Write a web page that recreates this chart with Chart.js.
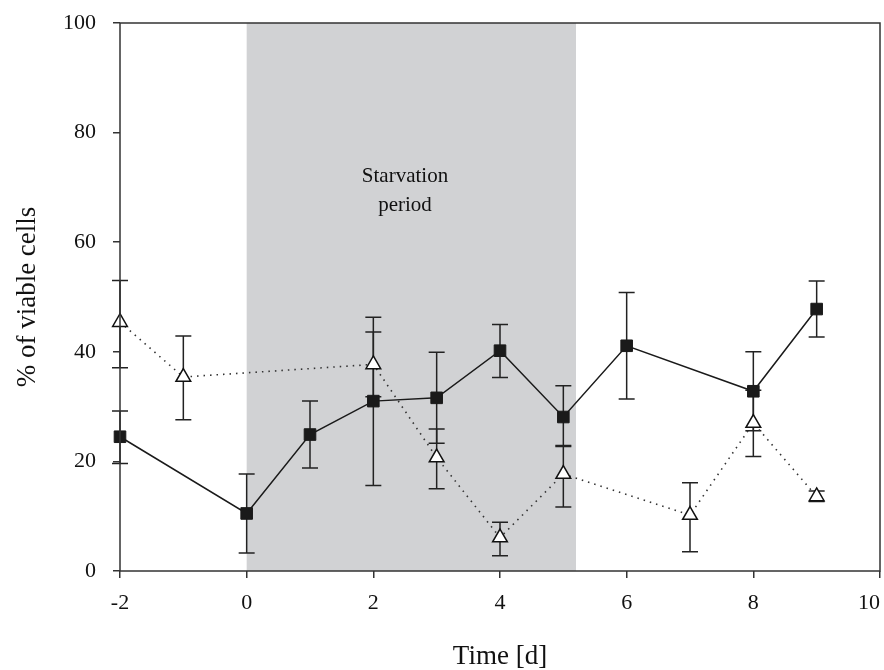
<!DOCTYPE html>
<html>
<head>
<meta charset="utf-8">
<script src="https://cdn.jsdelivr.net/npm/chart.js@4/dist/chart.umd.min.js"></script>
<style>
  html, body { margin: 0; padding: 0; background: #fff; }
  #wrap { width: 884px; height: 670px; }
</style>
</head>
<body>
<div id="wrap"><canvas id="myChart" width="884" height="670"></canvas></div>
<script>
// viable cells (filled squares, solid line)
const viableDays = [-2, 0, 1, 2, 3, 4, 5, 6, 8, 9];
const viableMean = [24.5, 10.5, 24.9, 31.0, 31.6, 40.2, 28.1, 41.1, 32.8, 47.8];
const viableHigh = [29.2, 17.7, 31.0, 46.3, 39.9, 45.0, 33.8, 50.8, 40.0, 52.9];
const viableLow  = [19.6, 3.3, 18.8, 15.6, 23.3, 35.3, 22.9, 31.4, 25.6, 42.7];

// second series (open triangles, dotted line)
const otherDays = [-2, -1, 2, 3, 4, 5, 7, 8, 9];
const otherMean = [45.4, 35.4, 37.7, 20.7, 6.1, 17.7, 10.2, 27.0, 13.6];
const otherHigh = [53.0, 42.9, 43.6, 25.9, 8.9, 22.7, 16.1, 33.0, 14.6];
const otherLow  = [37.1, 27.6, 31.8, 15.0, 2.8, 11.7, 3.5, 20.9, 12.7];

// starvation period on the time axis
const starvation = [0, 5.2];
const xTicks = [-2, 0, 2, 4, 6, 8, 10];
const yTicks = [0, 20, 40, 60, 80, 100];

const serif = "'Liberation Serif', 'Times New Roman', serif";
const ink = '#111';

function points(xs, ys) {
    return xs.map((x, i) => ({ x: x, y: ys[i] }));
}

// grey band + error bars, drawn under the markers
const backdrop = {
    id: 'backdrop',
    beforeDatasetsDraw(chart) {
        const ctx = chart.ctx;
        const xs = chart.scales.x, ys = chart.scales.y;
        const area = chart.chartArea;
        ctx.save();
        ctx.fillStyle = '#d1d2d4';
        const x0 = xs.getPixelForValue(starvation[0]);
        const x1 = xs.getPixelForValue(starvation[1]);
        ctx.fillRect(x0, area.top, x1 - x0, area.bottom - area.top);

        ctx.fillStyle = ink;
        ctx.font = '21px ' + serif;
        ctx.textAlign = 'center';
        ctx.textBaseline = 'alphabetic';
        const tx = xs.getPixelForValue(2.5);
        ctx.fillText('Starvation', tx, 182);
        ctx.fillText('period', tx, 211);

        ctx.strokeStyle = '#222';
        ctx.lineWidth = 1.5;
        const bars = [
            [viableDays, viableHigh, viableLow],
            [otherDays, otherHigh, otherLow]
        ];
        bars.forEach(([days, hi, lo]) => {
            days.forEach((d, i) => {
                const px = xs.getPixelForValue(d);
                const pt = ys.getPixelForValue(hi[i]);
                const pb = ys.getPixelForValue(lo[i]);
                ctx.beginPath();
                ctx.moveTo(px, pt); ctx.lineTo(px, pb);
                ctx.moveTo(px - 8, pt); ctx.lineTo(px + 8, pt);
                ctx.moveTo(px - 8, pb); ctx.lineTo(px + 8, pb);
                ctx.stroke();
            });
        });
        ctx.restore();
    },
    afterDraw(chart) {
        const ctx = chart.ctx;
        const a = chart.chartArea;
        ctx.save();
        ctx.strokeStyle = '#333';
        ctx.lineWidth = 1.5;
        ctx.strokeRect(a.left, a.top, a.right - a.left, a.bottom - a.top);
        ctx.restore();
    }
};

document.addEventListener('DOMContentLoaded', function() {
    const ctx = document.getElementById('myChart').getContext('2d');
    new Chart(ctx, {
        type: 'line',
        data: {
            datasets: [{
                label: 'viable',
                data: points(viableDays, viableMean),
                borderColor: '#1a1a1a',
                borderWidth: 1.5,
                pointStyle: 'rect',
                pointRadius: 8.2,
                pointBackgroundColor: '#1a1a1a',
                pointBorderColor: '#1a1a1a',
                pointBorderWidth: 1,
                clip: false,
                order: 1
            }, {
                label: 'other',
                data: points(otherDays, otherMean),
                borderColor: '#333',
                borderWidth: 1.6,
                borderDash: [1.5, 5],
                pointStyle: 'triangle',
                pointRadius: 8.5,
                pointBackgroundColor: '#fff',
                pointBorderColor: '#111',
                pointBorderWidth: 1.5,
                clip: false,
                order: 2
            }]
        },
        options: {
            responsive: false,
            animation: false,
            layout: { autoPadding: false, padding: { top: 23, right: 4, left: 0, bottom: 0 } },
            plugins: { legend: { display: false }, tooltip: { enabled: false } },
            scales: {
                x: {
                    type: 'linear',
                    min: -2, max: 10,
                    afterBuildTicks: s => { s.ticks = xTicks.map(v => ({ value: v })); },
                    afterFit: s => { s.height = 99; s.paddingLeft = 0; s.paddingRight = 0; },
                    grid: { drawOnChartArea: false, drawTicks: true, tickLength: 7, color: '#333', lineWidth: 1.5 },
                    border: { display: false },
                    ticks: {
                        color: ink, font: { family: serif, size: 22 }, padding: 12, maxRotation: 0,
                        // last label sits inside the canvas edge, as in the original
                        callback: v => v === 10 ? '10\u2002\u2002' : String(v)
                    },
                    title: { display: true, text: 'Time [d]', color: ink, font: { family: serif, size: 27, lineHeight: 1 }, padding: 0 }
                },
                y: {
                    min: 0, max: 100,
                    afterBuildTicks: s => { s.ticks = yTicks.map(v => ({ value: v })); },
                    afterFit: s => { s.width = 120; s.paddingTop = 0; s.paddingBottom = 0; },
                    grid: { drawOnChartArea: false, drawTicks: true, tickLength: 7, color: '#333', lineWidth: 1.5 },
                    border: { display: false },
                    ticks: { color: ink, font: { family: serif, size: 22 }, padding: 17 },
                    title: { display: true, text: '% of viable cells', color: ink, font: { family: serif, size: 27, lineHeight: 1 }, padding: { top: 14, bottom: 0 } }
                }
            }
        },
        plugins: [backdrop]
    });
});
</script>
</body>
</html>
